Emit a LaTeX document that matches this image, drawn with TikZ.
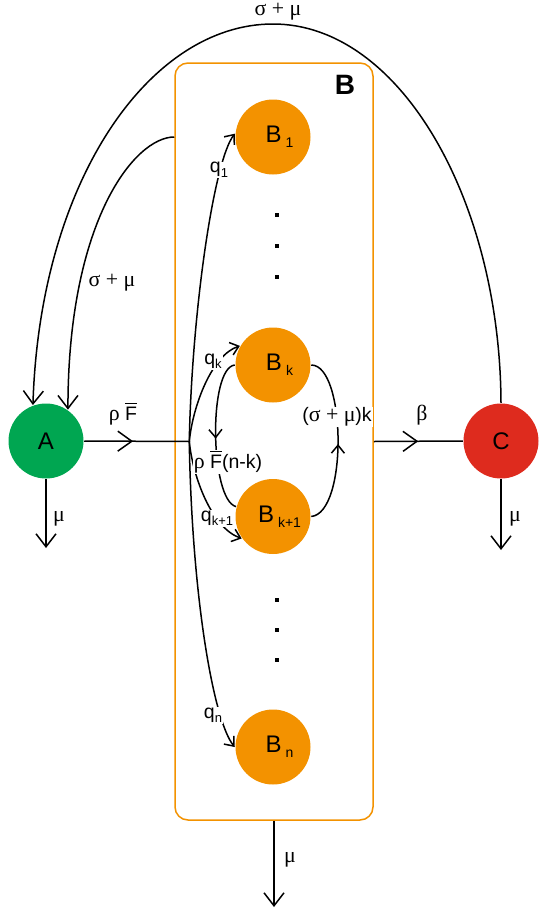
\documentclass[tikz,border=0pt]{standalone}
\usepackage{fontspec}
\setmainfont{Liberation Sans}
\newfontfamily\grk{Liberation Serif}[Scale=1.12]
\usetikzlibrary{arrows.meta,positioning,calc,decorations.markings}

\definecolor{agreen}{RGB}{0,166,81}
\definecolor{borange}{RGB}{243,146,0}
\definecolor{cred}{RGB}{222,43,30}

\newcommand{\bsub}[1]{\,\raisebox{-5pt}{\fontsize{14pt}{14pt}\selectfont #1}}
\newcommand{\lsub}[1]{\raisebox{-4.5pt}{\fontsize{13pt}{13pt}\selectfont #1}}
\newcommand{\ovl}[1]{\setbox0=\hbox{#1}\rlap{\rule[\dimexpr\ht0+3.5pt\relax]{\wd0}{1.3pt}}\box0}

\begin{document}
\begin{tikzpicture}[
    x=1pt, y=-1pt, line width=1.5pt,
    stnode/.style={circle, minimum size=75pt, inner sep=0pt,
      font=\fontsize{24pt}{24pt}\selectfont},
    bnode/.style={stnode, fill=borange},
    lbl/.style={font=\fontsize{19.5pt}{19.5pt}\selectfont, inner sep=1pt},
    wlbl/.style={lbl, fill=white},
    arr/.style={-{Straight Barb[length=13pt,width=20pt]}},
    sarr/.style={-{Straight Barb[length=8pt,width=13pt]}},
    midarr/.style={postaction={decorate}, decoration={markings,
      mark=at position #1 with {\arrow{Straight Barb[length=14pt,width=20pt]}}}},
    smidarr/.style={postaction={decorate}, decoration={markings,
      mark=at position #1 with {\arrow{Straight Barb[length=8pt,width=13pt]}}}}
  ]
    \useasboundingbox (0,0) rectangle (539,910);

    % the group B
    \node[draw=borange, rounded corners=13pt, minimum width=198pt,
      minimum height=757pt, inner sep=0pt] (box) at (274,441.5) {};
    \node[font=\bfseries\fontsize{28pt}{28pt}\selectfont] (Blbl) at (345,85) {B};

    \node[bnode] (B1) at (273,137) {\hspace{13pt}B\bsub{1}};
    \node[bnode, below=151.5pt of B1] (Bk) {\hspace{13pt}B\bsub{k}};
    \node[bnode, below=75pt of Bk] (Bk1) {\hspace{13pt}B\bsub{k+1}};
    \node[bnode, below=154pt of Bk1] (Bn) {\hspace{13pt}B\bsub{n}};

    \foreach \y in {215,246,277,600,630,660}
      \fill (275,\y-2) rectangle +(4,4);

    \node[stnode, fill=agreen] (A) at (46,441) {A};
    \node[stnode, fill=cred] (C) at (501,441) {C};

    \coordinate (J) at ($(box.west)+(15pt,0pt)$);
    \coordinate (Aend) at (46,548);
    \coordinate (Cend) at (501,550);
    \coordinate (boxend) at (274,907);
    \coordinate (peak) at (273,24);

    % inflow into B
    \draw[midarr=0.465] (A.east) -- (J);
    \draw[sarr] (J) .. controls (192,310) and (214,160) .. (B1.175);
    \draw[sarr] (J) .. controls (193,405) and (212,355) .. (Bk.150);
    \draw[sarr] (J) .. controls (193,478) and (212,528) .. (Bk1.215);
    \draw[sarr] (J) .. controls (192,600) and (214,722) .. (Bn.180);

    \draw[smidarr=0.52] (Bk.west) .. controls (208,368) and (210,500) .. (Bk1.165);
    \draw[smidarr=0.48] (Bk1.east) .. controls (348,513) and (346,365) .. (Bk.east);

    % outflows
    \draw[midarr=0.5] (box.east) -- (C.west);
    \draw[arr] (A) -- (Aend);
    \draw[arr] (C) -- (Cend);
    \draw[arr] (box) -- (boxend);

    \draw[arr] (C.north) .. controls (500,200) and (400,24) .. (peak)
      .. controls (150,24) and (40,180) .. (A.110);
    \draw[arr] (box.west |- B1) .. controls (135,137) and (68,220) .. (A.55);

    % labels
    \node[lbl] (lrf) at (123,414) {{\grk ρ} \ovl{F}};
    \node[lbl] (lbeta) at (422,415) {\grk β};
    \node[lbl] (lmuA) at (59,519) {\grk μ};
    \node[lbl] (lmuC) at (515,519) {\grk μ};
    \node[lbl] (lmuB) at (290,860) {\grk μ};
    \node[lbl] (lsmtop) at (278,12) {\grk σ + μ};
    \node[lbl] (lsmin) at (112,283) {\grk σ + μ};
    \node[wlbl] (lq1) at (219,170) {q\lsub{1}};
    \node[wlbl] (lqk) at (213,361) {q\lsub{k}};
    \node[wlbl] (lqk1) at (217,518) {q\lsub{k+1}};
    \node[wlbl] (lqn) at (213,715) {q\lsub{n}};
    \node[wlbl] (lrfnk) at (228,462) {{\grk ρ} \ovl{F}(n-k)};
    \node[wlbl] (lsmk) at (337,417) {({\grk σ + μ})k};
\end{tikzpicture}
\end{document}
